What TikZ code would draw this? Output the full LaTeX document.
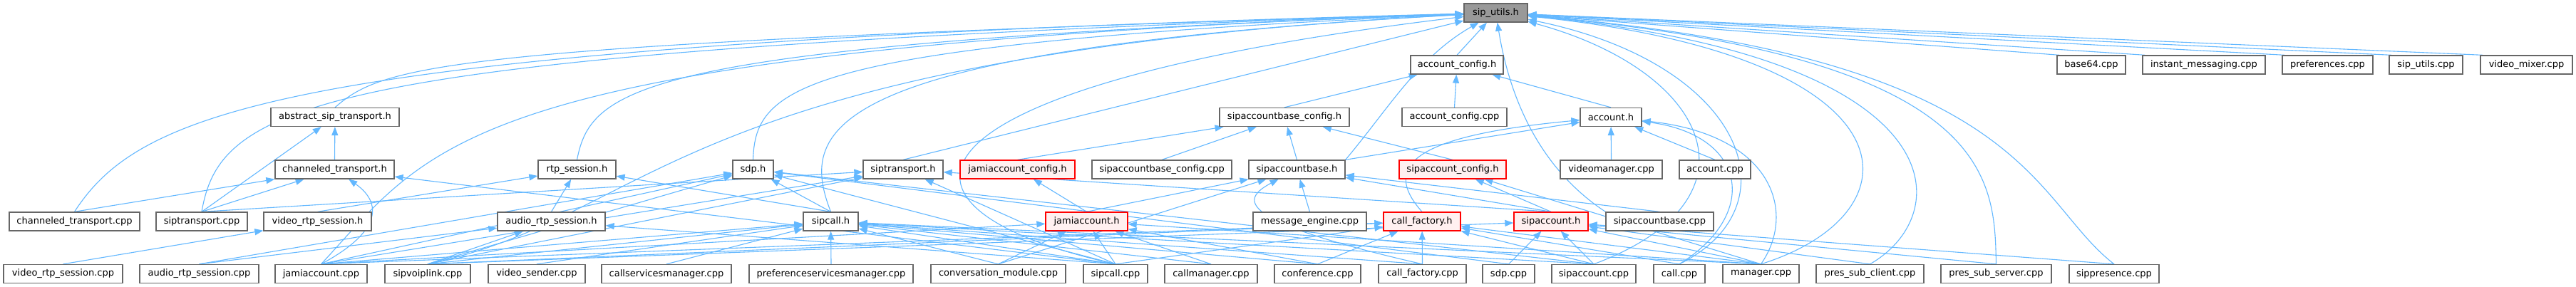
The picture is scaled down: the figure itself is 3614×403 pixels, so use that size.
\documentclass[tikz,border=0pt]{standalone}
\usepackage{fontspec}
\setmainfont{DejaVu Sans}
\usetikzlibrary{arrows.meta}
\definecolor{edgeblue}{HTML}{63B8FF}
\definecolor{boxgray}{HTML}{666666}
\definecolor{rootfill}{HTML}{999999}
\definecolor{redfill}{HTML}{FFF0F0}
\pgfdeclarelayer{bg}
\pgfsetlayers{bg,main}
\begin{document}
\begin{tikzpicture}[x=1pt,y=-1pt,
  nb/.style={draw=boxgray,fill=white,line width=1.3pt,minimum height=26pt,inner sep=0pt,
    font=\fontsize{13pt}{15pt}\selectfont},
  rootnode/.style={nb,fill=rootfill},
  rednode/.style={nb,draw=red,fill=redfill},
  dep/.style={draw=edgeblue,line width=1.1pt,-{Triangle[length=12pt,width=9pt]}}]
\useasboundingbox (0,0) rectangle (3614,403);
% row 0
\node[rootnode,minimum width=89pt] (su) at (2098.5,18) {sip\_utils.h};
% row 1
\node[nb,minimum width=130pt] (acch) at (2044,91) {account\_config.h};
\node[nb,minimum width=96pt] (b64) at (2934,91) {base64.cpp};
\node[nb,minimum width=172pt] (imcpp) at (3092,91) {instant\_messaging.cpp};
\node[nb,minimum width=127pt] (prefcpp) at (3265.5,91) {preferences.cpp};
\node[nb,minimum width=103pt] (sucpp) at (3403.5,91) {sip\_utils.cpp};
\node[nb,minimum width=129pt] (vmxcpp) at (3544.5,91) {video\_mixer.cpp};
% row 2
\node[nb,minimum width=180pt] (ast) at (470,164.5) {abstract\_sip\_transport.h};
\node[nb,minimum width=182pt] (sbch) at (1802,164.5) {sipaccountbase\_config.h};
\node[nb,minimum width=147pt] (acccpp) at (2040.5,164.5) {account\_config.cpp};
\node[nb,minimum width=86pt] (acth) at (2260,164.5) {account.h};
% row 3
\node[nb,minimum width=167pt] (cth) at (469.5,238) {channeled\_transport.h};
\node[nb,minimum width=109pt] (rtph) at (809.5,238) {rtp\_session.h};
\node[nb,minimum width=57pt] (sdph) at (1056.5,238) {sdp.h};
\node[nb,minimum width=112pt] (sth) at (1267,238) {siptransport.h};
\node[rednode,minimum width=161pt] (jach) at (1427.5,238) {jamiaccount\_config.h};
\node[nb,minimum width=196pt] (sbccpp) at (1630,238) {sipaccountbase\_config.cpp};
\node[nb,minimum width=135pt] (sabh) at (1819.5,238) {sipaccountbase.h};
\node[rednode,minimum width=150pt] (sach) at (2038,238) {sipaccount\_config.h};
\node[nb,minimum width=143pt] (vmgr) at (2260.5,238) {videomanager.cpp};
\node[nb,minimum width=100pt] (acctcpp) at (2406,238) {account.cpp};
% row 4
\node[nb,minimum width=183pt] (ctcpp) at (104.5,311) {channeled\_transport.cpp};
\node[nb,minimum width=128pt] (stcpp) at (283,311) {siptransport.cpp};
\node[nb,minimum width=151pt] (vrsh) at (445.5,311) {video\_rtp\_session.h};
\node[nb,minimum width=151pt] (arsh) at (773.5,311) {audio\_rtp\_session.h};
\node[nb,minimum width=77pt] (scallh) at (1165.5,311) {sipcall.h};
\node[rednode,minimum width=115pt] (jah) at (1524.5,311) {jamiaccount.h};
\node[nb,minimum width=159pt] (msgcpp) at (1837.5,311) {message\_engine.cpp};
\node[rednode,minimum width=108pt] (cfh) at (1995,311) {call\_factory.h};
\node[rednode,minimum width=104pt] (sah) at (2176,311) {sipaccount.h};
\node[nb,minimum width=151pt] (sabcpp) at (2328.5,311) {sipaccountbase.cpp};
% row 5
\node[nb,minimum width=167pt] (vrscpp) at (88.5,384.5) {video\_rtp\_session.cpp};
\node[nb,minimum width=167pt] (arscpp) at (279.5,384.5) {audio\_rtp\_session.cpp};
\node[nb,minimum width=129pt] (jacpp) at (450.5,384.5) {jamiaccount.cpp};
\node[nb,minimum width=120pt] (svlcpp) at (600,384.5) {sipvoiplink.cpp};
\node[nb,minimum width=136pt] (vscpp) at (753,384.5) {video\_sender.cpp};
\node[nb,minimum width=182pt] (cssm) at (935,384.5) {callservicesmanager.cpp};
\node[nb,minimum width=230pt] (psmcpp) at (1166,384.5) {preferenceservicesmanager.cpp};
\node[nb,minimum width=189pt] (convcpp) at (1400.5,384.5) {conversation\_module.cpp};
\node[nb,minimum width=90pt] (scallcpp) at (1565,384.5) {sipcall.cpp};
\node[nb,minimum width=130pt] (cmgrcpp) at (1699,384.5) {callmanager.cpp};
\node[nb,minimum width=121pt] (confcpp) at (1848.5,384.5) {conference.cpp};
\node[nb,minimum width=123pt] (cfcpp) at (1995.5,384.5) {call\_factory.cpp};
\node[nb,minimum width=73pt] (sdpcpp) at (2116.5,384.5) {sdp.cpp};
\node[nb,minimum width=118pt] (sacpp) at (2236,384.5) {sipaccount.cpp};
\node[nb,minimum width=72pt] (callcpp) at (2356,384.5) {call.cpp};
\node[nb,minimum width=107pt] (mgrcpp) at (2470.5,384.5) {manager.cpp};
\node[nb,minimum width=151pt] (pscc) at (2623.5,384.5) {pres\_sub\_client.cpp};
\node[nb,minimum width=155pt] (pssc) at (2800.5,384.5) {pres\_sub\_server.cpp};
\node[nb,minimum width=126pt] (spcpp) at (2966,384.5) {sippresence.cpp};

\begin{pgfonlayer}{bg}
\fill[white] (0,0) rectangle (3614,403);
% ---- into sip_utils.h
\draw[dep] (acch.north) -- (su);
\draw[dep] (sth.north) -- (su);
\foreach \n in {b64,imcpp,prefcpp,sucpp,vmxcpp}
  \draw[dep] ([xshift=4pt]\n.north west) -- (su);
\draw[dep] (ctcpp.north) .. controls (200,150) and (420,62) .. (su);
\draw[dep] (stcpp.north) .. controls (310,140) and (450,72) .. (su);
\draw[dep] (ast.north) .. controls (540,90) and (620,62) .. (su);
\draw[dep] (jacpp.north) .. controls (610,200) and (640,70) .. (su);
\draw[dep] (rtph.north) .. controls (830,120) and (900,62) .. (su);
\draw[dep] (svlcpp.north) .. controls (930,300) and (930,80) .. (su);
\draw[dep] (sdph.north) .. controls (1060,120) and (1120,62) .. (su);
\draw[dep] (scallh.north) .. controls (1120,180) and (1150,70) .. (su);
\draw[dep] (scallcpp.north) .. controls (1200,290) and (1250,120) .. (su);
\draw[dep] (sabh.north east) .. controls (1950,150) and (1990,80) .. (su);
\draw[dep] (sabcpp.north west) .. controls (2150,230) and (2115,120) .. (su);
\draw[dep] (sacpp.north) .. controls (2480,280) and (2400,100) .. (su);
\draw[dep] (callcpp.north) .. controls (2520,290) and (2450,90) .. (su);
\draw[dep] (mgrcpp.north) .. controls (2697,300) and (2697,80) .. (su);
\draw[dep] (pscc.north) .. controls (2747,300) and (2747,80) .. (su);
\draw[dep] (pssc.north) .. controls (2798,250) and (2798,80) .. (su);
\draw[dep] (spcpp.north) .. controls (2848,280) and (2848,80) .. (su);
% ---- account_config.h
\draw[dep] (sbch.north) -- (acch);
\draw[dep] (acccpp.north) -- (acch);
\draw[dep] (acth.north) -- (acch);
% ---- sipaccountbase_config.h
\draw[dep] (jach.north) -- (sbch);
\draw[dep] (sbccpp.north) -- (sbch);
\draw[dep] (sabh.north) -- (sbch);
\draw[dep] (sach.north) -- (sbch);
% ---- account.h
\draw[dep] (sabh.north east) -- (acth);
\draw[dep] (vmgr.north) -- (acth);
\draw[dep] (acctcpp.north) -- (acth);
\draw[dep] (cfh.north) .. controls (1935,230) and (1990,190) .. (acth);
\draw[dep] (callcpp.north) .. controls (2470,300) and (2450,190) .. (acth);
\draw[dep] (mgrcpp.north) .. controls (2520,300) and (2490,190) .. (acth);
% ---- abstract_sip_transport.h
\draw[dep] (cth.north) -- (ast);
\draw[dep] (stcpp.north) -- (ast);
% ---- channeled_transport.h
\draw[dep] (ctcpp.north) -- (cth);
\draw[dep] (stcpp.north) -- (cth);
\draw[dep] (scallcpp.north) -- (cth);
\draw[dep] (jacpp.north) .. controls (545,320) and (530,280) .. (cth);
% ---- rtp_session.h
\draw[dep] (vrsh.north) -- (rtph);
\draw[dep] (arsh.north) -- (rtph);
\draw[dep] (scallh.north) -- (rtph);
% ---- video/audio rtp session
\draw[dep] (vrscpp.north) -- (vrsh);
\draw[dep] (arscpp.north) -- (arsh);
\draw[dep] (svlcpp.north) -- (arsh);
\draw[dep] (scallcpp.north) -- (arsh);
% ---- sdp.h
\foreach \n in {arscpp,jacpp,svlcpp,scallh,scallcpp,sdpcpp,sacpp}
  \draw[dep] (\n.north) -- (sdph);
% ---- siptransport.h
\foreach \n in {stcpp,jacpp,svlcpp,scallcpp,sah}
  \draw[dep] (\n.north) -- (sth);
% ---- jamiaccount_config.h
\draw[dep] (jah.north) -- (jach);
% ---- sipaccountbase.h
\foreach \n in {jah,convcpp,msgcpp,sah,sabcpp}
  \draw[dep] (\n.north) -- (sabh);
\draw[dep] (cfcpp.north) .. controls (1730,310) and (1740,280) .. (sabh);
% ---- sipaccount_config.h
\draw[dep] (sah.north) -- (sach);
\draw[dep] (mgrcpp.north) -- (sach);
% ---- sipcall.h
\foreach \n in {jacpp,svlcpp,vscpp,cssm,psmcpp,convcpp,scallcpp,cmgrcpp,confcpp,cfcpp,mgrcpp,sacpp}
  \draw[dep] (\n.north) -- (scallh);
% ---- jamiaccount.h
\foreach \n in {jacpp,convcpp,scallcpp,cmgrcpp,confcpp,mgrcpp}
  \draw[dep] (\n.north) -- (jah);
% ---- call_factory.h
\foreach \n in {jacpp,svlcpp,scallcpp,confcpp,cfcpp,sacpp,callcpp,mgrcpp}
  \draw[dep] (\n.north) -- (cfh);
% ---- sipaccount.h
\foreach \n in {svlcpp,sdpcpp,sacpp,mgrcpp,pscc,pssc,spcpp}
  \draw[dep] (\n.north) -- (sah);
\end{pgfonlayer}
\end{tikzpicture}
\end{document}
